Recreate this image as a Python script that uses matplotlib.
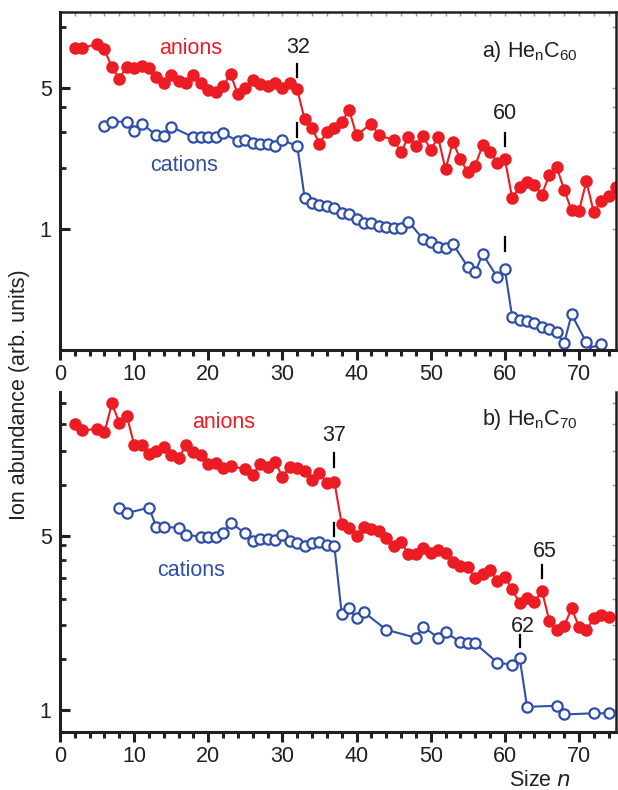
import matplotlib
matplotlib.use("Agg")
import matplotlib.pyplot as plt
from matplotlib.ticker import FixedLocator, NullFormatter, FixedFormatter, MultipleLocator

plt.rcParams['font.family'] = ['Liberation Sans', 'DejaVu Sans']
plt.rcParams['mathtext.default'] = 'regular'

RED = '#ec1c24'
BLUE = '#2f4fa8'
INK = '#231f20'

# panel a) He_n C60
a_anion_n = [2, 3, 5, 6, 7, 8, 9, 10, 11, 12, 13, 14, 15, 16, 17, 18, 19, 20, 21, 22, 23, 24, 25,
             26, 27, 28, 29, 30, 31, 32, 33, 34, 35, 36, 37, 38, 39, 40, 42, 43, 45, 46, 47, 48,
             49, 50, 51, 52, 53, 54, 55, 56, 57, 58, 59, 60, 61, 62, 63, 64, 65, 66, 67, 68, 69,
             70, 71, 72, 73, 74, 75]
a_anion_y = [7.85, 7.85, 8.19, 7.71, 6.28, 5.54, 6.32, 6.26, 6.38, 6.21, 5.65, 5.27, 5.75, 5.40,
             5.24, 5.75, 5.27, 4.85, 4.76, 5.08, 5.82, 4.62, 5.0, 5.44, 5.18, 5.1, 5.24, 5.0, 5.24,
             4.89, 3.48, 3.14, 2.64, 3.02, 3.16, 3.39, 3.87, 2.91, 3.32, 2.91, 2.75, 2.41, 2.84,
             2.58, 2.89, 2.45, 2.84, 1.97, 2.70, 2.21, 1.92, 2.05, 2.6, 2.41, 2.12, 2.23, 1.42,
             1.62, 1.71, 1.65, 1.48, 1.85, 2.03, 1.56, 1.24, 1.23, 1.72, 1.21, 1.38, 1.46, 1.62]
a_cation_n = [6, 7, 9, 10, 11, 13, 14, 15, 18, 19, 20, 21, 22, 24, 25, 26, 27, 28, 29, 30, 32, 33,
              34, 35, 36, 37, 38, 39, 40, 41, 42, 43, 44, 45, 46, 47, 49, 50, 51, 52, 53, 55, 56,
              57, 59, 60, 61, 62, 63, 64, 65, 66, 67, 68, 69, 71, 72, 73]
a_cation_y = [3.22, 3.39, 3.39, 3.06, 3.32, 2.91, 2.88, 3.20, 2.84, 2.84, 2.84, 2.84, 2.97, 2.72,
              2.75, 2.67, 2.62, 2.62, 2.58, 2.75, 2.57, 1.43, 1.35, 1.31, 1.30, 1.27, 1.20, 1.19,
              1.12, 1.07, 1.07, 1.03, 1.02, 1.01, 1.01, 1.09, 0.889, 0.866, 0.818, 0.809, 0.843,
              0.652, 0.611, 0.753, 0.578, 0.635, 0.367, 0.356, 0.352, 0.345, 0.330, 0.321, 0.309,
              0.273, 0.379, 0.276, 0.25, 0.271]

# panel b) He_n C70
b_anion_n = [2, 3, 5, 6, 7, 8, 9, 10, 11, 12, 13, 14, 15, 16, 17, 18, 19, 20, 21, 22, 23, 25, 26,
             27, 28, 29, 30, 31, 32, 33, 34, 35, 36, 37, 38, 39, 40, 41, 42, 43, 44, 45, 46, 47,
             48, 49, 50, 51, 52, 53, 54, 55, 56, 57, 58, 59, 60, 61, 62, 63, 64, 65, 66, 67, 68,
             69, 70, 71, 72, 73, 74]
b_anion_y = [14.0, 13.3, 13.4, 13.0, 17.0, 14.2, 15.2, 11.6, 11.6, 10.7, 11.0, 11.4, 10.6, 10.25,
             11.6, 10.9, 10.6, 9.72, 9.8, 9.35, 9.55, 9.26, 8.79, 9.72, 9.43, 9.94, 8.65, 9.43,
             9.35, 9.1, 8.39, 8.97, 8.18, 8.26, 5.58, 5.37, 5.0, 5.44, 5.32, 5.25, 4.89, 4.57,
             4.72, 4.23, 4.23, 4.46, 4.26, 4.39, 4.26, 3.91, 3.79, 3.74, 3.40, 3.52, 3.65, 3.30,
             3.42, 3.05, 2.68, 2.81, 2.71, 3.01, 2.28, 2.10, 2.17, 2.56, 2.16, 2.10, 2.33, 2.41,
             2.37]
b_cation_n = [8, 9, 12, 13, 14, 16, 17, 19, 20, 21, 22, 23, 25, 26, 27, 28, 29, 30, 31, 32, 33,
              34, 35, 36, 37, 38, 39, 40, 41, 44, 48, 49, 51, 52, 54, 55, 56, 59, 61, 62, 63, 67,
              68, 72, 74]
b_cation_y = [6.46, 6.17, 6.49, 5.42, 5.42, 5.40, 5.04, 4.97, 4.94, 4.97, 5.12, 5.65, 5.12, 4.79,
              4.85, 4.85, 4.82, 5.04, 4.77, 4.70, 4.55, 4.66, 4.74, 4.60, 4.57, 2.43, 2.56, 2.33,
              2.47, 2.10, 1.95, 2.16, 1.95, 2.06, 1.87, 1.85, 1.85, 1.55, 1.52, 1.62, 1.03, 1.04,
              0.96, 0.97, 0.97]

a_ylim = (0.253, 11.8)
b_ylim = (0.816, 18.9)
a_minor = [2, 3, 4, 10]
b_minor = [1.6, 2.2, 2.8, 3.4, 4.0, 4.6, 8, 11, 14, 17]

fig = plt.figure(figsize=(6.18, 7.9), dpi=100)
ax1 = fig.add_axes([0.0971, 0.557, 0.8997, 0.4278])
ax2 = fig.add_axes([0.0971, 0.0734, 0.8997, 0.4304])

fs = 15.5


def style(ax, ylim, minor, top_spine):
    ax.set_yscale('log')
    ax.set_xlim(0, 75)
    ax.set_ylim(*ylim)
    ax.yaxis.set_major_locator(FixedLocator([1, 5]))
    ax.yaxis.set_major_formatter(FixedFormatter(['1', '5']))
    ax.yaxis.set_minor_locator(FixedLocator(minor))
    ax.yaxis.set_minor_formatter(NullFormatter())
    ax.xaxis.set_major_locator(MultipleLocator(10))
    ax.xaxis.set_minor_locator(MultipleLocator(2))
    for s in ['left', 'bottom']:
        ax.spines[s].set_linewidth(2.2)
        ax.spines[s].set_color(INK)
    ax.spines['right'].set_linewidth(1.8)
    ax.spines['right'].set_color(INK)
    ax.spines['top'].set_visible(top_spine)
    ax.spines['top'].set_linewidth(1.8)
    ax.spines['top'].set_color(INK)
    ax.tick_params(axis='x', which='major', direction='out', length=7, width=2.2,
                   labelsize=fs, pad=3, colors=INK)
    ax.tick_params(axis='x', which='minor', direction='out', length=4, width=2.2,
                   colors=INK)
    ax.tick_params(axis='y', which='major', direction='in', length=7.5, width=2.2,
                   labelsize=fs, pad=6, colors=INK)
    ax.tick_params(axis='y', which='minor', direction='in', length=4.5, width=2.0,
                   colors=INK)
    ax.set_xticks(range(0, 71, 10))
    # faint inner ticks on the right spine
    sy = ax.secondary_yaxis('right')
    sy.set_yscale('log')
    sy.yaxis.set_major_locator(FixedLocator([1, 5]))
    sy.yaxis.set_minor_locator(FixedLocator(minor))
    sy.yaxis.set_major_formatter(NullFormatter())
    sy.yaxis.set_minor_formatter(NullFormatter())
    sy.tick_params(which='both', direction='in', length=3, width=1, colors='#999999')
    sy.spines['right'].set_visible(False)
    if top_spine:
        sx = ax.secondary_xaxis('top')
        sx.xaxis.set_major_locator(MultipleLocator(10))
        sx.xaxis.set_minor_locator(MultipleLocator(2))
        sx.xaxis.set_major_formatter(NullFormatter())
        sx.tick_params(which='both', direction='in', length=3, width=1, colors='#999999')
        sx.spines['top'].set_visible(False)


def series(ax, n, y, color, filled):
    if filled:
        ax.plot(n, y, '-o', color=color, lw=1.5, ms=9, mec=color, mfc=color, mew=0)
    else:
        ax.plot(n, y, '-o', color=color, lw=1.5, ms=7.4, mec=color, mfc='white', mew=1.6)


def mark(ax, x, y0, y1):
    ax.plot([x, x], [y0, y1], color='black', lw=1.6)


style(ax1, a_ylim, a_minor, True)
style(ax2, b_ylim, b_minor, False)

series(ax1, a_anion_n, a_anion_y, RED, True)
series(ax1, a_cation_n, a_cation_y, BLUE, False)
series(ax2, b_anion_n, b_anion_y, RED, True)
series(ax2, b_cation_n, b_cation_y, BLUE, False)

ax1.text(0.235, 0.893, 'anions', color=RED, fontsize=fs, ha='center', va='center',
         transform=ax1.transAxes)
ax1.text(0.223, 0.547, 'cations', color=BLUE, fontsize=fs, ha='center', va='center',
         transform=ax1.transAxes)
ax1.text(0.845, 0.882, r'a) He$_{n}$C$_{60}$', color=INK, fontsize=fs, ha='center',
         va='center', transform=ax1.transAxes)
ax1.text(32.1, 7.9, '32', fontsize=fs, ha='center', va='center', color=INK)
mark(ax1, 32, 5.63, 6.54)
mark(ax1, 32, 2.85, 3.34)
ax1.text(60, 3.74, '60', fontsize=fs, ha='center', va='center', color=INK)
mark(ax1, 60, 2.57, 2.98)
mark(ax1, 60, 0.779, 0.913)

ax2.text(0.294, 0.91, 'anions', color=RED, fontsize=fs, ha='center', va='center',
         transform=ax2.transAxes)
ax2.text(0.235, 0.476, 'cations', color=BLUE, fontsize=fs, ha='center', va='center',
         transform=ax2.transAxes)
ax2.text(0.845, 0.918, r'b) He$_{n}$C$_{70}$', color=INK, fontsize=fs, ha='center',
         va='center', transform=ax2.transAxes)
ax2.text(37, 12.7, '37', fontsize=fs, ha='center', va='center', color=INK)
mark(ax2, 37, 9.45, 10.77)
mark(ax2, 37, 5.0, 5.64)
ax2.text(65.4, 4.32, '65', fontsize=fs, ha='center', va='center', color=INK)
mark(ax2, 65, 3.39, 3.82)
ax2.text(62.5, 2.16, '62', fontsize=fs, ha='center', va='center', color=INK)
mark(ax2, 62, 1.79, 2.0)

fig.text(0.032, 0.5, 'Ion abundance (arb. units)', rotation=90, fontsize=fs,
         ha='center', va='center', color=INK)
fig.text(0.874, 0.012, r'Size $\mathit{n}$', fontsize=fs, ha='center', va='center',
         color=INK)

fig.savefig('out.png', dpi=100)
